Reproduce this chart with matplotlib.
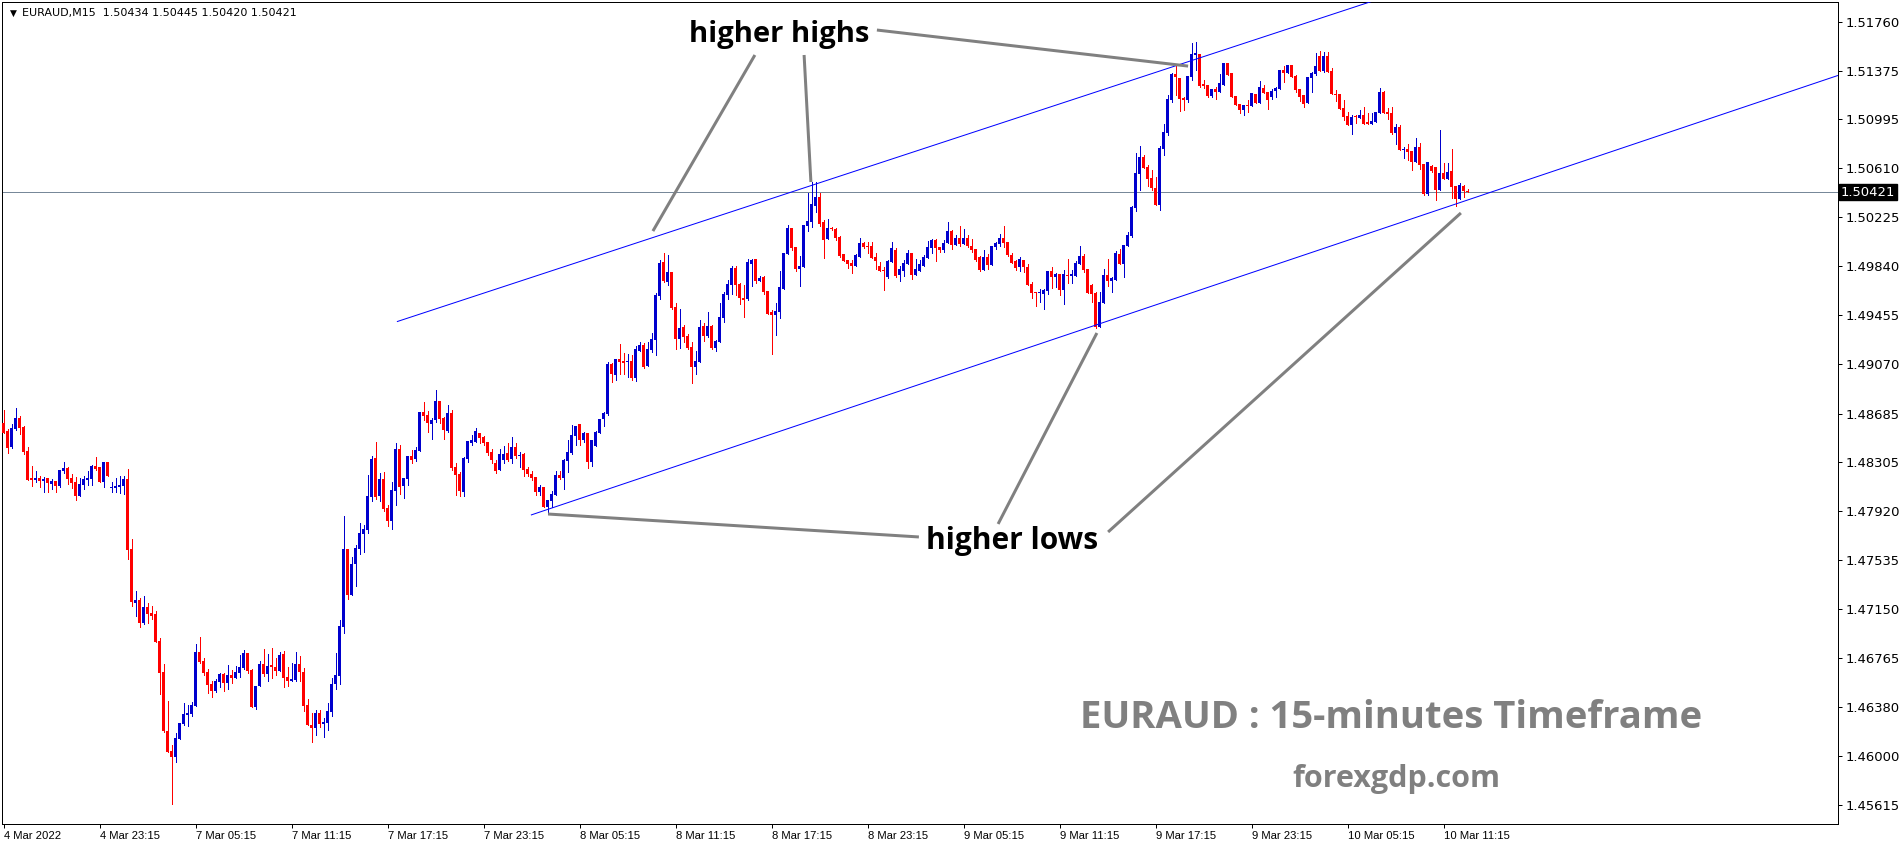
import matplotlib
matplotlib.use("Agg")
import matplotlib.pyplot as plt
from matplotlib import font_manager
from matplotlib.transforms import blended_transform_factory

# ---------------- data (EURAUD M15, bar 0 = 4 Mar 17:15) ----------------
opens = [1.48607,1.48547,1.48424,1.48563,1.48647,1.48579,1.48390,1.48178,1.48163,1.48178,
 1.48157,1.48178,1.48134,1.48155,1.48116,1.48233,1.48257,1.48178,1.48147,1.48040,
 1.48123,1.48163,1.48173,1.48273,1.48265,1.48150,1.48304,1.48102,1.48102,1.48110,
 1.48118,1.48171,1.47621,1.47200,1.47221,1.47043,1.47166,1.47119,1.47111,1.46899,
 1.46656,1.46193,1.46036,1.45991,1.46133,1.46250,1.46321,1.46329,1.46392,1.46815,
 1.46745,1.46658,1.46564,1.46509,1.46580,1.46640,1.46572,1.46635,1.46612,1.46651,
 1.46690,1.46808,1.46672,1.46384,1.46546,1.46721,1.46640,1.46711,1.46695,1.46664,
 1.46800,1.46619,1.46588,1.46593,1.46719,1.46656,1.46397,1.46240,1.46219,1.46334,
 1.46251,1.46258,1.46342,1.46562,1.46627,1.47012,1.47621,1.47263,1.47504,1.47621,
 1.47739,1.47770,1.48032,1.48335,1.48037,1.48171,1.47943,1.47841,1.48079,1.48406,
 1.48118,1.48173,1.48351,1.48328,1.48390,1.48696,1.48673,1.48602,1.48634,1.48783,
 1.48649,1.48547,1.48689,1.48265,1.48210,1.48071,1.48328,1.48453,1.48461,1.48532,
 1.48500,1.48461,1.48383,1.48296,1.48244,1.48320,1.48375,1.48328,1.48422,1.48354,
 1.48367,1.48252,1.48213,1.48189,1.48071,1.48111,1.47954,1.48001,1.48048,1.48205,
 1.48181,1.48315,1.48377,1.48511,1.48605,1.48480,1.48534,1.48307,1.48432,1.48534,
 1.48644,1.48684,1.49071,1.48990,1.49113,1.49097,1.49087,1.49097,1.48966,1.49178,
 1.49222,1.49060,1.49183,1.49262,1.49610,1.49874,1.49720,1.49798,1.49521,1.49270,
 1.49364,1.49293,1.49207,1.49052,1.49086,1.49372,1.49293,1.49372,1.49199,1.49246,
 1.49434,1.49615,1.49693,1.49827,1.49699,1.49589,1.49581,1.49858,1.49900,1.49727,
 1.49756,1.49646,1.49479,1.49461,1.49482,1.49665,1.49939,1.50138,1.49994,1.49816,
 1.49835,1.50159,1.50188,1.50316,1.50384,1.50188,1.50054,1.50141,1.50133,1.50073,
 1.49937,1.49890,1.49866,1.49843,1.49916,1.50023,1.50000,1.50000,1.49913,1.49843,
 1.49814,1.49756,1.49874,1.49968,1.49775,1.49803,1.49861,1.49945,1.49775,1.49806,
 1.49843,1.49905,1.49984,1.50047,1.49992,1.49968,1.50023,1.50117,1.50007,1.50062,
 1.50015,1.50062,1.50000,1.49976,1.49913,1.49811,1.49913,1.49851,1.49992,1.50016,
 1.50063,1.50031,1.49929,1.49882,1.49835,1.49890,1.49835,1.49702,1.49639,1.49628,
 1.49623,1.49647,1.49804,1.49757,1.49780,1.49655,1.49772,1.49767,1.49767,1.49859,
 1.49921,1.49819,1.49694,1.49631,1.49367,1.49552,1.49772,1.49728,1.49736,1.49937,
 1.49859,1.50000,1.50078,1.50298,1.50565,1.50698,1.50622,1.50536,1.50455,1.50324,
 1.50761,1.50887,1.51146,1.51350,1.51318,1.51161,1.51146,1.51326,1.51499,1.51507,
 1.51271,1.51263,1.51177,1.51232,1.51208,1.51266,1.51435,1.51360,1.51179,1.51116,
 1.51069,1.51108,1.51101,1.51195,1.51119,1.51242,1.51211,1.51171,1.51218,1.51234,
 1.51381,1.51360,1.51420,1.51336,1.51234,1.51187,1.51122,1.51320,1.51352,1.51490,
 1.51375,1.51490,1.51373,1.51195,1.51195,1.51082,1.51020,1.50949,1.51014,1.51004,
 1.51027,1.50975,1.50959,1.50972,1.51043,1.51211,1.51054,1.51046,1.50886,1.50933,
 1.50753,1.50761,1.50745,1.50661,1.50776,1.50643,1.50407,1.50627,1.50619,1.50441,
 1.50572,1.50528,1.50588,1.50470,1.50371,1.50470,1.50434]
highs = [1.48712,1.48560,1.48602,1.48725,1.48665,1.48586,1.48422,1.48273,1.48233,1.48194,
 1.48186,1.48178,1.48171,1.48155,1.48241,1.48304,1.48262,1.48210,1.48184,1.48178,
 1.48194,1.48233,1.48283,1.48343,1.48265,1.48304,1.48304,1.48147,1.48178,1.48194,
 1.48194,1.48249,1.47700,1.47292,1.47237,1.47252,1.47197,1.47174,1.47135,1.46925,
 1.46719,1.46428,1.46083,1.46177,1.46258,1.46415,1.46399,1.46423,1.46878,1.46933,
 1.46768,1.46682,1.46588,1.46604,1.46651,1.46645,1.46711,1.46672,1.46703,1.46792,
 1.46831,1.46808,1.46680,1.46546,1.46742,1.46836,1.46800,1.46844,1.46766,1.46813,
 1.46821,1.46695,1.46727,1.46813,1.46782,1.46687,1.46444,1.46334,1.46358,1.46358,
 1.46298,1.46413,1.46609,1.46805,1.47064,1.47880,1.47621,1.47559,1.47653,1.47825,
 1.47810,1.48202,1.48351,1.48461,1.48218,1.48226,1.47967,1.48147,1.48453,1.48437,
 1.48178,1.48351,1.48398,1.48422,1.48696,1.48775,1.48704,1.48649,1.48869,1.48783,
 1.48657,1.48751,1.48712,1.48296,1.48226,1.48343,1.48469,1.48516,1.48571,1.48532,
 1.48508,1.48461,1.48406,1.48320,1.48406,1.48430,1.48453,1.48500,1.48453,1.48383,
 1.48375,1.48268,1.48236,1.48189,1.48126,1.48111,1.48009,1.48079,1.48236,1.48236,
 1.48330,1.48477,1.48595,1.48589,1.48605,1.48542,1.48534,1.48480,1.48550,1.48644,
 1.48699,1.49086,1.49079,1.49113,1.49230,1.49160,1.49152,1.49141,1.49215,1.49246,
 1.49238,1.49246,1.49317,1.49631,1.49890,1.49944,1.49929,1.49798,1.49552,1.49505,
 1.49379,1.49309,1.49246,1.49173,1.49419,1.49395,1.49481,1.49379,1.49262,1.49552,
 1.49638,1.49733,1.49842,1.49842,1.49707,1.49693,1.49895,1.49898,1.49900,1.49764,
 1.49764,1.49646,1.49497,1.49550,1.49803,1.49945,1.50164,1.50138,1.49994,1.49921,
 1.50164,1.50413,1.50502,1.50502,1.50413,1.50204,1.50211,1.50149,1.50141,1.50078,
 1.49937,1.49890,1.49890,1.49937,1.50062,1.50031,1.50031,1.50031,1.49942,1.49874,
 1.49837,1.49890,1.50031,1.49984,1.49843,1.49890,1.49968,1.49945,1.49898,1.49890,
 1.49929,1.50039,1.50054,1.50054,1.49994,1.50047,1.50188,1.50125,1.50086,1.50157,
 1.50133,1.50086,1.50054,1.49976,1.49921,1.49968,1.49937,1.50000,1.50031,1.50094,
 1.50157,1.50031,1.49945,1.49890,1.49913,1.49890,1.49859,1.49717,1.49641,1.49660,
 1.49665,1.49804,1.49838,1.49785,1.49780,1.49811,1.49900,1.49811,1.49882,1.50000,
 1.49937,1.49819,1.49702,1.49639,1.49639,1.49819,1.49898,1.49757,1.49961,1.49976,
 1.50008,1.50110,1.50314,1.50730,1.50785,1.50714,1.50636,1.50596,1.50541,1.50785,
 1.50957,1.51185,1.51358,1.51428,1.51318,1.51169,1.51334,1.51593,1.51601,1.51507,
 1.51303,1.51263,1.51232,1.51248,1.51350,1.51436,1.51435,1.51360,1.51179,1.51116,
 1.51108,1.51145,1.51203,1.51195,1.51294,1.51263,1.51211,1.51234,1.51250,1.51381,
 1.51412,1.51420,1.51420,1.51344,1.51234,1.51187,1.51328,1.51365,1.51514,1.51530,
 1.51522,1.51522,1.51394,1.51224,1.51195,1.51145,1.51051,1.51027,1.51027,1.51067,
 1.51090,1.51043,1.51043,1.51051,1.51239,1.51218,1.51085,1.51093,1.50957,1.50949,
 1.50779,1.50802,1.50745,1.50847,1.50810,1.50643,1.50659,1.50635,1.50619,1.50910,
 1.50651,1.50651,1.50761,1.50470,1.50491,1.50478,1.50445]
lows = [1.48529,1.48377,1.48416,1.48555,1.48521,1.48367,1.48165,1.48118,1.48147,1.48110,
 1.48071,1.48071,1.48092,1.48071,1.48110,1.48218,1.48134,1.48103,1.48006,1.48040,
 1.48092,1.48123,1.48123,1.48241,1.48150,1.48108,1.48197,1.48071,1.48071,1.48063,
 1.48055,1.47543,1.47176,1.47098,1.47012,1.47035,1.47043,1.47069,1.46894,1.46486,
 1.46185,1.46031,1.45623,1.45952,1.46133,1.46243,1.46235,1.46313,1.46392,1.46729,
 1.46635,1.46494,1.46462,1.46502,1.46541,1.46509,1.46525,1.46572,1.46612,1.46619,
 1.46682,1.46651,1.46384,1.46368,1.46546,1.46627,1.46588,1.46612,1.46635,1.46664,
 1.46541,1.46549,1.46588,1.46588,1.46588,1.46353,1.46240,1.46109,1.46164,1.46227,
 1.46148,1.46203,1.46313,1.46523,1.46564,1.46965,1.47231,1.47263,1.47331,1.47585,
 1.47598,1.47749,1.48001,1.48016,1.48001,1.47922,1.47802,1.47778,1.47969,1.48056,
 1.48024,1.48126,1.48296,1.48312,1.48390,1.48634,1.48540,1.48485,1.48618,1.48610,
 1.48485,1.48540,1.48241,1.48045,1.48037,1.48037,1.48304,1.48437,1.48461,1.48453,
 1.48437,1.48359,1.48296,1.48221,1.48244,1.48299,1.48315,1.48299,1.48336,1.48268,
 1.48197,1.48197,1.48166,1.48048,1.48048,1.47954,1.47899,1.47954,1.48048,1.48173,
 1.48095,1.48228,1.48370,1.48440,1.48440,1.48464,1.48260,1.48275,1.48432,1.48534,
 1.48589,1.48676,1.48935,1.48950,1.48997,1.48997,1.48974,1.48950,1.48943,1.49178,
 1.49045,1.49060,1.49168,1.49144,1.49586,1.49717,1.49696,1.49505,1.49191,1.49199,
 1.49246,1.49191,1.48927,1.48997,1.49086,1.49254,1.49285,1.49191,1.49175,1.49246,
 1.49403,1.49583,1.49623,1.49615,1.49544,1.49440,1.49576,1.49686,1.49707,1.49722,
 1.49620,1.49468,1.49155,1.49304,1.49432,1.49665,1.49934,1.49971,1.49803,1.49686,
 1.49835,1.50117,1.50146,1.50266,1.50159,1.49908,1.50054,1.50125,1.50047,1.49913,
 1.49882,1.49827,1.49790,1.49843,1.49916,1.49984,1.49947,1.49905,1.49819,1.49806,
 1.49657,1.49748,1.49874,1.49759,1.49727,1.49764,1.49861,1.49743,1.49775,1.49806,
 1.49843,1.49905,1.49947,1.49882,1.49952,1.49952,1.50023,1.49976,1.50007,1.50000,
 1.50015,1.49994,1.49952,1.49882,1.49803,1.49811,1.49819,1.49851,1.49979,1.50000,
 1.49992,1.49921,1.49866,1.49811,1.49804,1.49796,1.49694,1.49592,1.49529,1.49560,
 1.49505,1.49623,1.49670,1.49678,1.49615,1.49545,1.49709,1.49709,1.49767,1.49859,
 1.49796,1.49631,1.49560,1.49359,1.49367,1.49552,1.49689,1.49639,1.49736,1.49859,
 1.49757,1.50000,1.50070,1.50275,1.50439,1.50615,1.50473,1.50439,1.50324,1.50285,
 1.50717,1.50871,1.51133,1.51185,1.51059,1.51067,1.51130,1.51303,1.51381,1.51248,
 1.51237,1.51169,1.51169,1.51153,1.51208,1.51266,1.51344,1.51171,1.51108,1.51040,
 1.51030,1.51054,1.51101,1.51119,1.51119,1.51197,1.51077,1.51156,1.51171,1.51234,
 1.51289,1.51360,1.51328,1.51211,1.51140,1.51093,1.51122,1.51211,1.51344,1.51375,
 1.51367,1.51367,1.51195,1.51140,1.51077,1.50988,1.50949,1.50881,1.50962,1.51004,
 1.50959,1.50959,1.50959,1.50972,1.51043,1.51046,1.50996,1.50878,1.50802,1.50755,
 1.50693,1.50677,1.50598,1.50661,1.50606,1.50400,1.50400,1.50583,1.50363,1.50441,
 1.50528,1.50528,1.50376,1.50316,1.50371,1.50386,1.50420]
closes = [1.48534,1.48416,1.48568,1.48647,1.48573,1.48385,1.48165,1.48165,1.48178,1.48157,
 1.48171,1.48137,1.48155,1.48118,1.48241,1.48257,1.48173,1.48139,1.48040,1.48131,
 1.48171,1.48178,1.48273,1.48249,1.48150,1.48304,1.48197,1.48108,1.48113,1.48123,
 1.48171,1.47616,1.47208,1.47221,1.47043,1.47166,1.47114,1.47095,1.46894,1.46651,
 1.46193,1.46031,1.45991,1.46138,1.46258,1.46329,1.46337,1.46399,1.46815,1.46737,
 1.46651,1.46556,1.46509,1.46588,1.46643,1.46572,1.46635,1.46609,1.46656,1.46698,
 1.46808,1.46666,1.46384,1.46546,1.46721,1.46640,1.46703,1.46695,1.46664,1.46792,
 1.46612,1.46588,1.46604,1.46719,1.46656,1.46392,1.46240,1.46219,1.46334,1.46251,
 1.46266,1.46350,1.46562,1.46632,1.47017,1.47621,1.47263,1.47504,1.47629,1.47747,
 1.47778,1.48037,1.48328,1.48032,1.48171,1.47935,1.47841,1.48084,1.48406,1.48110,
 1.48178,1.48351,1.48320,1.48398,1.48696,1.48665,1.48608,1.48634,1.48783,1.48642,
 1.48555,1.48689,1.48257,1.48202,1.48076,1.48335,1.48469,1.48477,1.48547,1.48492,
 1.48453,1.48375,1.48320,1.48236,1.48367,1.48367,1.48320,1.48422,1.48351,1.48362,
 1.48244,1.48213,1.48181,1.48071,1.48111,1.47954,1.48009,1.48056,1.48205,1.48181,
 1.48323,1.48385,1.48519,1.48589,1.48480,1.48534,1.48307,1.48480,1.48542,1.48644,
 1.48689,1.49071,1.48997,1.49113,1.49092,1.49084,1.49092,1.48966,1.49191,1.49222,
 1.49052,1.49191,1.49270,1.49615,1.49869,1.49725,1.49798,1.49513,1.49270,1.49356,
 1.49285,1.49199,1.49052,1.49094,1.49364,1.49293,1.49372,1.49199,1.49254,1.49442,
 1.49623,1.49701,1.49827,1.49693,1.49589,1.49576,1.49874,1.49890,1.49722,1.49748,
 1.49641,1.49468,1.49461,1.49487,1.49678,1.49945,1.50138,1.49984,1.49816,1.49845,
 1.50164,1.50196,1.50329,1.50384,1.50172,1.50047,1.50141,1.50130,1.50065,1.49921,
 1.49882,1.49858,1.49843,1.49929,1.50023,1.49992,1.49992,1.49905,1.49884,1.49806,
 1.49803,1.49882,1.49984,1.49767,1.49819,1.49866,1.49945,1.49775,1.49819,1.49858,
 1.49913,1.49992,1.50047,1.49984,1.49968,1.50023,1.50117,1.50007,1.50062,1.50015,
 1.50062,1.50002,1.49968,1.49890,1.49811,1.49913,1.49851,1.50000,1.50023,1.50063,
 1.50023,1.49929,1.49866,1.49827,1.49898,1.49835,1.49694,1.49631,1.49628,1.49640,
 1.49655,1.49804,1.49757,1.49780,1.49655,1.49780,1.49767,1.49780,1.49866,1.49921,
 1.49811,1.49631,1.49623,1.49367,1.49560,1.49772,1.49728,1.49746,1.49945,1.49859,
 1.50008,1.50086,1.50306,1.50573,1.50698,1.50615,1.50528,1.50455,1.50324,1.50769,
 1.50895,1.51153,1.51350,1.51326,1.51153,1.51146,1.51334,1.51507,1.51512,1.51258,
 1.51258,1.51177,1.51232,1.51208,1.51279,1.51436,1.51344,1.51171,1.51108,1.51069,
 1.51108,1.51101,1.51203,1.51119,1.51247,1.51203,1.51148,1.51218,1.51242,1.51381,
 1.51360,1.51420,1.51328,1.51226,1.51171,1.51116,1.51328,1.51360,1.51412,1.51375,
 1.51490,1.51367,1.51195,1.51187,1.51077,1.51014,1.50949,1.51014,1.51009,1.51027,
 1.50959,1.50959,1.50980,1.51051,1.51205,1.51046,1.51038,1.50886,1.50933,1.50755,
 1.50763,1.50740,1.50661,1.50776,1.50638,1.50407,1.50659,1.50591,1.50441,1.50572,
 1.50528,1.50580,1.50465,1.50371,1.50475,1.50434,1.50421]

x_tick_bars = [0, 24, 48, 72, 96, 120, 144, 168, 192, 216, 240, 264, 288, 312, 336, 360]
x_tick_labels = ["4 Mar 2022", "4 Mar 23:15", "7 Mar 05:15", "7 Mar 11:15", "7 Mar 17:15",
                 "7 Mar 23:15", "8 Mar 05:15", "8 Mar 11:15", "8 Mar 17:15", "8 Mar 23:15",
                 "9 Mar 05:15", "9 Mar 11:15", "9 Mar 17:15", "9 Mar 23:15", "10 Mar 05:15",
                 "10 Mar 11:15"]
y_tick_labels = ["1.51760", "1.51375", "1.50995", "1.50610", "1.50225", "1.49840", "1.49455",
                 "1.49070", "1.48685", "1.48305", "1.47920", "1.47535", "1.47150", "1.46765",
                 "1.46380", "1.46000", "1.45615"]
last_price = 1.50421
header = "EURAUD,M15  1.50434 1.50445 1.50420 1.50421"

# trend channel anchors (bar index, price)
upper_channel = [(98.3, 1.49406), (203.0, 1.50486)]
lower_channel = [(131.8, 1.47888), (366.0, 1.50361)]
# annotation pointer lines (bar index, price) pairs
highs_pointers = [((187.8, 1.51499), (162.3, 1.50117)),
                  ((200.1, 1.51499), (201.8, 1.50502)),
                  ((218.3, 1.51695), (296.1, 1.51412))]
lows_pointers = [((136.1, 1.47896), (228.8, 1.47716)),
                 ((248.6, 1.47818), (273.3, 1.49317)),
                 ((276.1, 1.47755), (364.3, 1.50259))]
highs_label_pos = (193.8, 1.51663)
lows_label_pos = (252.0, 1.47684)

# ---------------- figure ----------------
W, H, DPI = 1902, 848, 100
fig = plt.figure(figsize=(W / DPI, H / DPI), dpi=DPI)
fig.patch.set_facecolor("white")
ax_l, ax_r, ax_t, ax_b = 2, 1838, 2, 824
ax = fig.add_axes([ax_l / W, 1 - ax_b / H, (ax_r - ax_l) / W, (ax_b - ax_t) / H])
ax.set_facecolor("white")

PX = 72.0 / DPI  # points per pixel
bar_px = 4.0
x0_px = 3.7
ax.set_xlim((ax_l - x0_px) / bar_px, (ax_r - x0_px) / bar_px)
ymin, ymax = 1.45463, 1.51915
ax.set_ylim(ymin, ymax)
price_per_px = (ymax - ymin) / (ax_b - ax_t)

BLUE = "#0000CD"
RED = "#FF0000"

n = len(closes)
for i in range(n):
    o, h, l, c = opens[i], highs[i], lows[i], closes[i]
    col = BLUE if c >= o else RED
    ax.vlines(i, l, h, color=col, linewidth=1 * PX, antialiased=False, zorder=3)
    bottom = min(o, c)
    height = max(abs(c - o), price_per_px)
    ax.bar(i, height, bottom=bottom, width=0.75, color=col, edgecolor=col,
           linewidth=0, antialiased=False, zorder=4)

# current price horizontal line
ax.axhline(last_price, color="#778899", linewidth=1 * PX, zorder=2)

# channel lines (rays to the right)
xr = ax.get_xlim()[1]
for (xa, ya), (xb, yb) in (upper_channel, lower_channel):
    slope = (yb - ya) / (xb - xa)
    ax.plot([xa, xr], [ya, ya + slope * (xr - xa)], color="#0000FF",
            linewidth=1 * PX, zorder=5, solid_capstyle="butt")

# annotation pointers
for (p, q) in highs_pointers + lows_pointers:
    ax.plot([p[0], q[0]], [p[1], q[1]], color="#808080", linewidth=3 * PX,
            zorder=6, solid_capstyle="butt")

ax.text(highs_label_pos[0], highs_label_pos[1], "higher highs", ha="center", va="center",
        fontsize=21, fontweight="bold", family="Open Sans", color="black", zorder=7)
ax.text(lows_label_pos[0], lows_label_pos[1], "higher lows", ha="center", va="center",
        fontsize=21.5, fontweight="bold", family="Open Sans", color="black", zorder=7)

# watermark
fig.text(1391 / W, 1 - 718 / H, "EURAUD : 15-minutes Timeframe", ha="center", va="center",
         fontsize=27.5, fontweight="bold", family="Open Sans", color="#808080")
fig.text(1396 / W, 1 - 779 / H, "forexgdp.com", ha="center", va="center",
         fontsize=22, fontweight="bold", family="Open Sans", color="#808080")

# axes styling
for s in ax.spines.values():
    s.set_color("black")
    s.set_linewidth(1 * PX)

ax.yaxis.tick_right()
ax.set_yticks([float(t) for t in y_tick_labels])
ax.set_yticklabels(y_tick_labels)
ax.tick_params(axis="y", direction="out", length=4 * PX, width=1 * PX, pad=4 * PX,
               labelsize=8.6, colors="black")

avail = {f.name for f in font_manager.fontManager.ttflist}
xfont = "Liberation Sans Narrow" if "Liberation Sans Narrow" in avail else "Liberation Sans"
ax.set_xticks(x_tick_bars)
ax.set_xticklabels(x_tick_labels)
ax.tick_params(axis="x", direction="out", length=4 * PX, width=1 * PX, pad=2, labelsize=9)
for lbl in ax.get_xticklabels():
    lbl.set_horizontalalignment("left")
    lbl.set_family(xfont)
for lbl in ax.get_yticklabels():
    lbl.set_family("DejaVu Sans")

# current price marker on the axis
tr = blended_transform_factory(ax.transAxes, ax.transData)
price_box = ax.text(1 + 3.0 / (ax_r - ax_l), last_price, "1.50421", transform=tr, ha="left",
                    va="center", fontsize=8.6, color="white", family="DejaVu Sans", zorder=10,
                    bbox=dict(boxstyle="square,pad=0.12", facecolor="black", edgecolor="black"),
                    clip_on=False)

# header
fig.text(10 / W, 1 - 13 / H, "\u25BC", ha="left", va="center", fontsize=6.5,
         family="DejaVu Sans", color="black")
head = fig.text(22 / W, 1 - 13 / H, header, ha="left", va="center", fontsize=8,
                family="DejaVu Sans", color="black")

# ---- fit text sizes to the pixel widths measured on the reference ----
fig.canvas.draw()
r = fig.canvas.get_renderer()
xl = ax.get_xticklabels()[1]            # "4 Mar 23:15" -> ~60 px wide
xs = 9 * 60.0 / xl.get_window_extent(r).width
yl = ax.get_yticklabels()[0]            # "1.51760" -> ~54 px wide
ys = 8.6 * 54.0 / yl.get_window_extent(r).width
ax.tick_params(axis="x", labelsize=xs)
ax.tick_params(axis="y", labelsize=ys)
price_box.set_fontsize(ys)
head.set_fontsize(8 * 275.0 / head.get_window_extent(r).width)

fig.savefig("out.png", dpi=DPI, facecolor="white")
